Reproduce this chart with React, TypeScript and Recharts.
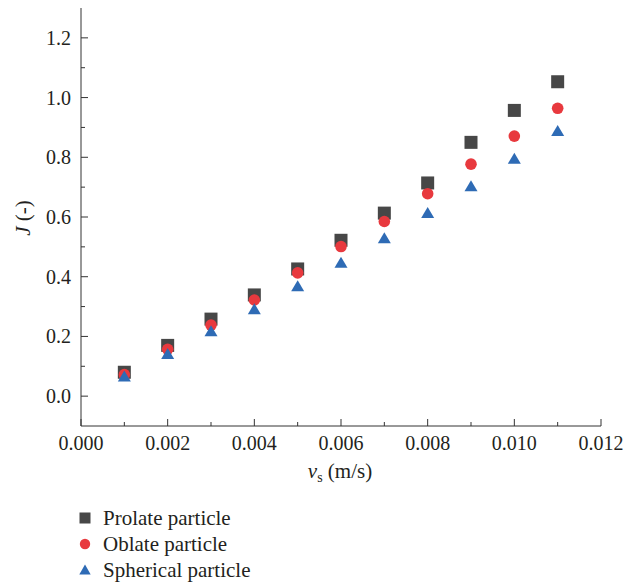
import React from 'react';
import { Label, Legend, Scatter, ScatterChart, XAxis, YAxis } from 'recharts';

// settling velocity (m/s)
const velocity = [0.001, 0.002, 0.003, 0.004, 0.005, 0.006, 0.007, 0.008, 0.009, 0.01, 0.011];
const prolate = [0.08, 0.17, 0.258, 0.339, 0.426, 0.522, 0.613, 0.714, 0.85, 0.957, 1.053];
const oblate = [0.072, 0.157, 0.238, 0.322, 0.413, 0.501, 0.585, 0.678, 0.777, 0.871, 0.964];
const spherical = [0.066, 0.141, 0.217, 0.291, 0.368, 0.447, 0.529, 0.613, 0.703, 0.795, 0.888];

const xTicks = [0, 0.001, 0.002, 0.003, 0.004, 0.005, 0.006, 0.007, 0.008, 0.009, 0.01, 0.011, 0.012];
const yTicks = [0, 0.1, 0.2, 0.3, 0.4, 0.5, 0.6, 0.7, 0.8, 0.9, 1.0, 1.1, 1.2];
const xDomain = [0, 0.012];
const yDomain = [-0.1, 1.3];

const seriesNames = ['Prolate particle', 'Oblate particle', 'Spherical particle'];

const FONT = '"Liberation Serif", "DejaVu Serif", serif';
const AXIS = '#333';
const TEXT = '#231f20';
const GREY = '#474747';
const RED = '#e8393e';
const BLUE = '#2e6bb5';

const textStyle = { fontFamily: FONT, fill: TEXT };

const toPoints = (vals: number[]) => velocity.map((v, i) => ({ x: v, y: vals[i] }));

const SquareShape = (props: any) => {
  const { cx, cy } = props;
  return <rect x={cx - 6.5} y={cy - 6.5} width={13} height={13} fill={GREY} />;
};
const CircleShape = (props: any) => {
  const { cx, cy } = props;
  return <circle cx={cx} cy={cy} r={5.8} fill={RED} />;
};
const TriangleShape = (props: any) => {
  const { cx, cy } = props;
  return (
    <polygon
      points={`${cx},${cy - 6} ${cx - 6.5},${cy + 5} ${cx + 6.5},${cy + 5}`}
      fill={BLUE}
    />
  );
};

const XTick = (props: any) => {
  const { x, y, payload } = props;
  const major = Math.round(payload.value * 1000) % 2 === 0;
  return (
    <g>
      <line x1={x} x2={x} y1={y} y2={y - (major ? 7 : 4)} stroke={AXIS} />
      {major && (
        <text x={x} y={y + 24} textAnchor="middle" fontSize={20} style={textStyle}>
          {payload.value.toFixed(3)}
        </text>
      )}
    </g>
  );
};

const YTick = (props: any) => {
  const { x, y, payload } = props;
  const major = Math.round(payload.value * 10) % 2 === 0;
  return (
    <g>
      <line x1={x} x2={x + (major ? 7 : 4)} y1={y} y2={y} stroke={AXIS} />
      {major && (
        <text x={x - 10} y={y + 7} textAnchor="end" fontSize={20} style={textStyle}>
          {payload.value.toFixed(1)}
        </text>
      )}
    </g>
  );
};

const markerFor = (i: number) => {
  if (i === 0) return <rect x={2.5} y={2.5} width={11} height={11} fill={GREY} />;
  if (i === 1) return <circle cx={8} cy={8} r={5.2} fill={RED} />;
  return <polygon points="8,2.5 2.3,12.5 13.7,12.5" fill={BLUE} />;
};

const renderLegend = () => (
  <div style={{ fontFamily: FONT, fontSize: 21, color: TEXT }}>
    {seriesNames.map((name, i) => (
      <div key={name} style={{ height: 26, display: 'flex', alignItems: 'center' }}>
        <svg width={16} height={16}>{markerFor(i)}</svg>
        <span style={{ marginLeft: 10 }}>{name}</span>
      </div>
    ))}
  </div>
);

export default function App() {
  return (
    <div style={{ position: 'absolute', left: 0, top: 0, background: '#fff', fontFamily: FONT }}>
      <ScatterChart
        width={624}
        height={588}
        margin={{ top: 8, right: 23, bottom: 132, left: 0 }}
        style={{ fontFamily: FONT }}
      >
        <XAxis
          type="number"
          dataKey="x"
          domain={xDomain}
          ticks={xTicks}
          interval={0}
          height={30}
          tickSize={0}
          tickMargin={0}
          tickLine={false}
          tick={<XTick />}
          axisLine={{ stroke: AXIS }}
        >
          <Label
            content={() => (
              <text x={340} y={478} textAnchor="middle" fontSize={21} style={textStyle}>
                <tspan fontStyle="italic">v</tspan>
                <tspan fontSize={14} dy={4}>s</tspan>
                <tspan dy={-4}> (m/s)</tspan>
              </text>
            )}
          />
        </XAxis>
        <XAxis
          xAxisId="top"
          orientation="top"
          type="number"
          domain={xDomain}
          height={0}
          tick={false}
          tickLine={false}
          axisLine={{ stroke: AXIS }}
        />
        <YAxis
          type="number"
          dataKey="y"
          domain={yDomain}
          ticks={yTicks}
          interval={0}
          width={81}
          tickSize={0}
          tickMargin={0}
          tickLine={false}
          tick={<YTick />}
          axisLine={{ stroke: AXIS }}
        >
          <Label
            content={() => (
              <text
                transform="translate(30,218) rotate(-90)"
                textAnchor="middle"
                fontSize={21}
                style={textStyle}
              >
                <tspan fontStyle="italic">J</tspan>
                <tspan> (-)</tspan>
              </text>
            )}
          />
        </YAxis>
        <YAxis
          yAxisId="right"
          orientation="right"
          type="number"
          domain={yDomain}
          width={0}
          tick={false}
          tickLine={false}
          axisLine={{ stroke: AXIS }}
        />
        <Scatter name={seriesNames[0]} data={toPoints(prolate)} shape={SquareShape} isAnimationActive={false} />
        <Scatter name={seriesNames[1]} data={toPoints(oblate)} shape={CircleShape} isAnimationActive={false} />
        <Scatter name={seriesNames[2]} data={toPoints(spherical)} shape={TriangleShape} isAnimationActive={false} />
        <Legend
          layout="vertical"
          align="center"
          verticalAlign="middle"
          content={renderLegend}
          wrapperStyle={{ left: 77, top: 505, width: 280 }}
        />
      </ScatterChart>
    </div>
  );
}
